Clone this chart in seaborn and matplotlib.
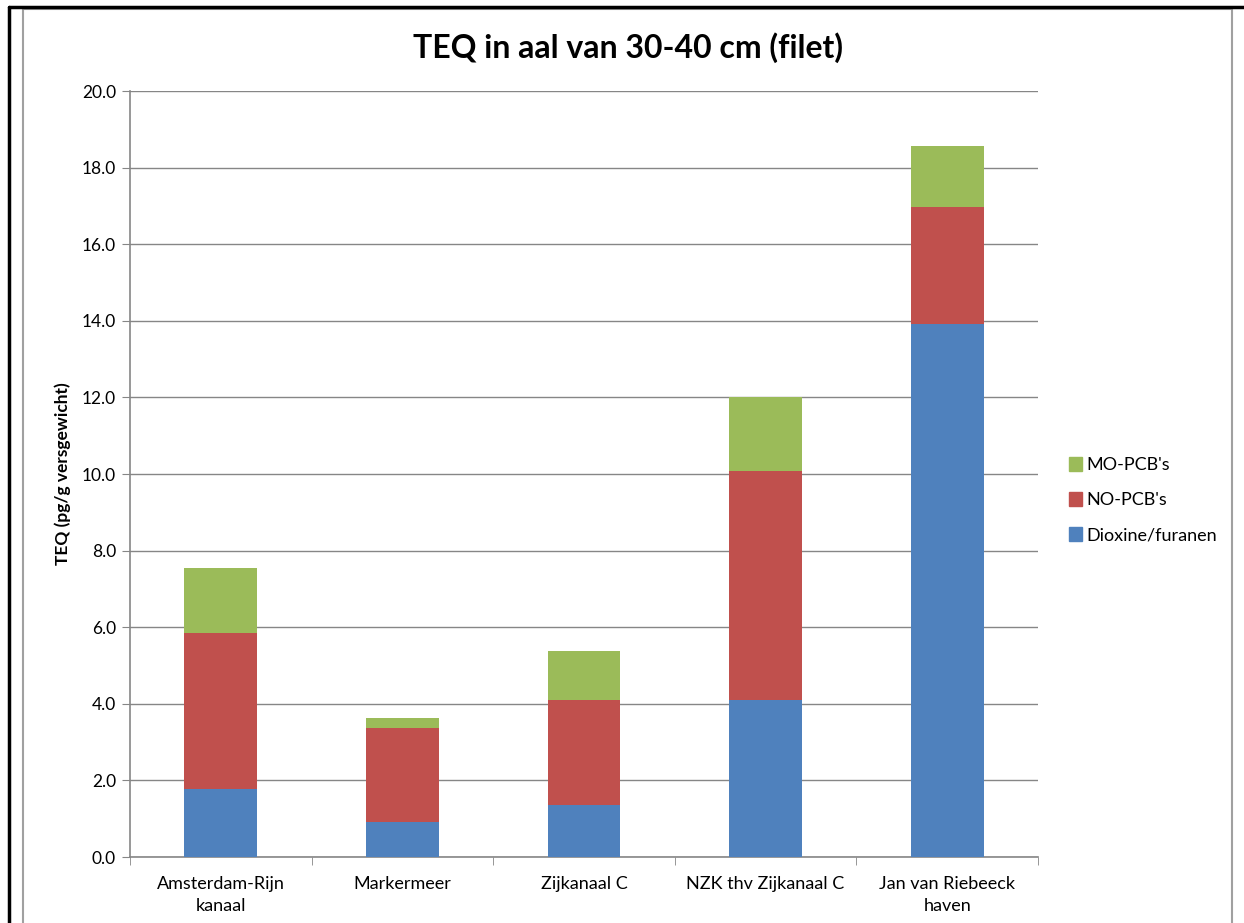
import numpy as np
import pandas as pd
import matplotlib
matplotlib.use("Agg")
import matplotlib.pyplot as plt
import seaborn as sns
from matplotlib.patches import Patch, Rectangle
from matplotlib.lines import Line2D

locations = ["Amsterdam-Rijn\nkanaal", "Markermeer", "Zijkanaal C",
             "NZK thv Zijkanaal C", "Jan van Riebeeck\nhaven"]
dioxine = [1.78, 0.92, 1.36, 4.10, 13.92]
no_pcb = [4.07, 2.45, 2.74, 5.98, 3.05]
mo_pcb = [1.70, 0.26, 1.28, 1.93, 1.59]

series_names = ["Dioxine/furanen", "NO-PCB's", "MO-PCB's"]
colors = ["#4f81bd", "#c0504d", "#9bbb59"]

sns.set_style("white")
plt.rcParams['font.family'] = ['Lato', 'DejaVu Sans']
plt.rcParams['text.color'] = 'black'
plt.rcParams['xtick.color'] = 'black'
plt.rcParams['ytick.color'] = 'black'
plt.rcParams['axes.labelcolor'] = 'black'

fig = plt.figure(figsize=(12.44, 9.23), dpi=100)
ax = fig.add_axes([0.1045, 0.0715, 0.7299, 0.8299])

df = pd.DataFrame({"loc": locations, "Dioxine/furanen": dioxine,
                   "NO-PCB's": no_pcb, "MO-PCB's": mo_pcb})
cum = df[series_names].cumsum(axis=1)

# tallest stack first so the lower segments sit on top of it
for name, col in reversed(list(zip(series_names, colors))):
    sns.barplot(x=df["loc"], y=cum[name], color=col, width=0.4,
                saturation=1, ax=ax, zorder=3, edgecolor="none", linewidth=0)

ax.set_ylim(0, 20)
ax.set_xlim(-0.5, 4.5)
yt = np.arange(0, 20.1, 2)
ax.set_yticks(yt)
ax.set_yticklabels([f"{v:.1f}" for v in yt], fontsize=12.5)
for lab in ax.get_xticklabels():
    lab.set_linespacing(1.45)
    lab.set_fontsize(13)
ax.yaxis.grid(True, color="#868686", lw=1, zorder=0)
ax.set_axisbelow(True)
ax.set_xlabel("")
ax.set_ylabel("TEQ (pg/g versgewicht)", fontsize=12.5, fontweight="bold", labelpad=8)
ax.tick_params(axis="x", length=0, pad=14)
ax.tick_params(axis="y", length=6, color="#868686", direction="out", left=True, pad=4)
for s in ["top", "right"]:
    ax.spines[s].set_visible(False)
for s in ["left", "bottom"]:
    ax.spines[s].set_color("#868686")
    ax.spines[s].set_linewidth(1.2)

# separator ticks between categories
ax.set_xticks(np.arange(-0.5, 4.6, 1), minor=True)
ax.tick_params(axis="x", which="minor", length=6, color="#868686", bottom=True)

fig.text(628/1244, 1 - 48/923, "TEQ in aal van 30-40 cm (filet)",
         fontsize=23, fontweight="bold", ha="center", va="center")

handles = [Patch(color=c, label=n) for n, c in zip(series_names, colors)]
fig.legend(handles=handles[::-1], loc="center left",
           bbox_to_anchor=(0.846, 0.458), frameon=False, fontsize=13,
           handlelength=0.75, handleheight=0.75, labelspacing=1.05,
           handletextpad=0.25)

# outer frames
fig.patches.append(Rectangle((23/1244, -0.01), (1232-23)/1244, 1 - 9/923 + 0.01,
                             transform=fig.transFigure, fill=False,
                             edgecolor="#a0a0a0", lw=1.5))
fig.lines.append(Line2D([9/1244, 1], [1 - 7/923, 1 - 7/923],
                        transform=fig.transFigure, color="black", lw=2.5))
fig.lines.append(Line2D([9/1244, 9/1244], [0, 1 - 7/923],
                        transform=fig.transFigure, color="black", lw=2.5))

fig.savefig("out.png", dpi=100)
